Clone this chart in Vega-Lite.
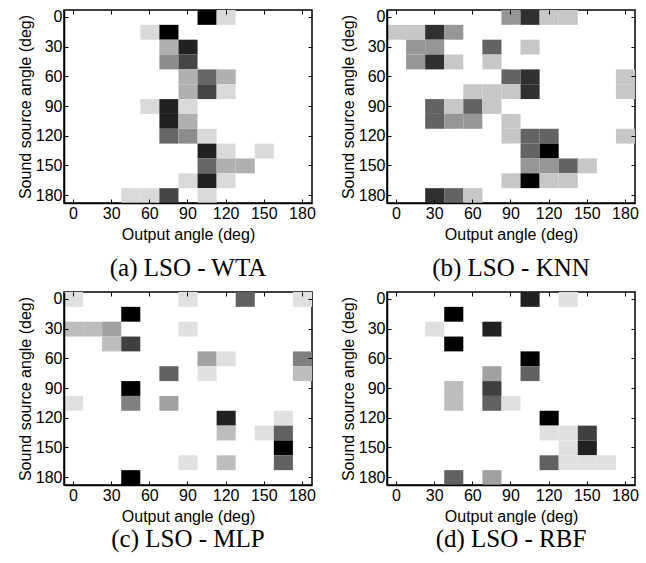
{
  "$schema": "https://vega.github.io/schema/vega-lite/v6.json",
  "padding": {"left": 16, "top": 8, "right": 5, "bottom": 2},
  "background": "white",
  "config": {
    "view": {"stroke": "black", "strokeWidth": 1.5},
    "axis": {
      "labelFont": "Liberation Sans", "labelFontSize": 16, "labelColor": "black",
      "titleFont": "Liberation Sans", "titleFontSize": 16, "titleFontWeight": "normal", "titleColor": "black",
      "domainColor": "black", "domainWidth": 1.5, "tickColor": "black", "tickWidth": 1,
      "tickSize": -4, "labelPadding": 6, "grid": false
    },
    "axisX": {"titlePadding": 5},
    "axisY": {"titlePadding": 2},
    "title": {"font": "Liberation Serif", "fontSize": 25, "fontWeight": "normal", "color": "black", "orient": "bottom", "anchor": "middle", "offset": 16}
  },
  "data": {"values": [
    {"p":"a","s":0,"o":105,"v":1},{"p":"a","s":0,"o":120,"v":0.15},
    {"p":"a","s":15,"o":60,"v":0.15},{"p":"a","s":15,"o":75,"v":1},
    {"p":"a","s":30,"o":75,"v":0.31},{"p":"a","s":30,"o":90,"v":0.87},
    {"p":"a","s":45,"o":75,"v":0.45},{"p":"a","s":45,"o":90,"v":0.73},
    {"p":"a","s":60,"o":90,"v":0.31},{"p":"a","s":60,"o":105,"v":0.6},{"p":"a","s":60,"o":120,"v":0.31},
    {"p":"a","s":75,"o":90,"v":0.31},{"p":"a","s":75,"o":105,"v":0.73},{"p":"a","s":75,"o":120,"v":0.15},
    {"p":"a","s":90,"o":60,"v":0.15},{"p":"a","s":90,"o":75,"v":0.87},{"p":"a","s":90,"o":90,"v":0.15},
    {"p":"a","s":105,"o":75,"v":0.87},{"p":"a","s":105,"o":90,"v":0.31},
    {"p":"a","s":120,"o":75,"v":0.6},{"p":"a","s":120,"o":90,"v":0.45},{"p":"a","s":120,"o":105,"v":0.15},
    {"p":"a","s":135,"o":105,"v":0.87},{"p":"a","s":135,"o":120,"v":0.15},{"p":"a","s":135,"o":150,"v":0.15},
    {"p":"a","s":150,"o":105,"v":0.6},{"p":"a","s":150,"o":120,"v":0.31},{"p":"a","s":150,"o":135,"v":0.31},
    {"p":"a","s":165,"o":90,"v":0.15},{"p":"a","s":165,"o":105,"v":0.87},{"p":"a","s":165,"o":120,"v":0.15},
    {"p":"a","s":180,"o":45,"v":0.15},{"p":"a","s":180,"o":60,"v":0.15},{"p":"a","s":180,"o":75,"v":0.73},{"p":"a","s":180,"o":105,"v":0.15},

    {"p":"b","s":0,"o":90,"v":0.41},{"p":"b","s":0,"o":105,"v":0.81},{"p":"b","s":0,"o":120,"v":0.22},{"p":"b","s":0,"o":135,"v":0.22},
    {"p":"b","s":15,"o":0,"v":0.22},{"p":"b","s":15,"o":15,"v":0.22},{"p":"b","s":15,"o":30,"v":0.81},{"p":"b","s":15,"o":45,"v":0.41},
    {"p":"b","s":30,"o":15,"v":0.41},{"p":"b","s":30,"o":30,"v":0.41},{"p":"b","s":30,"o":75,"v":0.61},{"p":"b","s":30,"o":105,"v":0.22},
    {"p":"b","s":45,"o":15,"v":0.41},{"p":"b","s":45,"o":30,"v":0.81},{"p":"b","s":45,"o":45,"v":0.22},{"p":"b","s":45,"o":75,"v":0.22},
    {"p":"b","s":60,"o":90,"v":0.61},{"p":"b","s":60,"o":105,"v":0.81},{"p":"b","s":60,"o":180,"v":0.22},
    {"p":"b","s":75,"o":60,"v":0.22},{"p":"b","s":75,"o":75,"v":0.22},{"p":"b","s":75,"o":90,"v":0.22},{"p":"b","s":75,"o":105,"v":0.81},{"p":"b","s":75,"o":180,"v":0.22},
    {"p":"b","s":90,"o":30,"v":0.61},{"p":"b","s":90,"o":45,"v":0.22},{"p":"b","s":90,"o":60,"v":0.61},{"p":"b","s":90,"o":75,"v":0.22},
    {"p":"b","s":105,"o":30,"v":0.61},{"p":"b","s":105,"o":45,"v":0.41},{"p":"b","s":105,"o":60,"v":0.41},{"p":"b","s":105,"o":90,"v":0.22},
    {"p":"b","s":120,"o":90,"v":0.22},{"p":"b","s":120,"o":105,"v":0.61},{"p":"b","s":120,"o":120,"v":0.61},{"p":"b","s":120,"o":180,"v":0.22},
    {"p":"b","s":135,"o":105,"v":0.61},{"p":"b","s":135,"o":120,"v":1},
    {"p":"b","s":150,"o":105,"v":0.41},{"p":"b","s":150,"o":120,"v":0.41},{"p":"b","s":150,"o":135,"v":0.61},{"p":"b","s":150,"o":150,"v":0.22},
    {"p":"b","s":165,"o":90,"v":0.22},{"p":"b","s":165,"o":105,"v":1},{"p":"b","s":165,"o":120,"v":0.22},{"p":"b","s":165,"o":135,"v":0.22},
    {"p":"b","s":180,"o":30,"v":0.81},{"p":"b","s":180,"o":45,"v":0.61},{"p":"b","s":180,"o":60,"v":0.22},

    {"p":"c","s":0,"o":0,"v":0.12},{"p":"c","s":0,"o":90,"v":0.12},{"p":"c","s":0,"o":135,"v":0.62},{"p":"c","s":0,"o":180,"v":0.12},
    {"p":"c","s":15,"o":45,"v":1},
    {"p":"c","s":30,"o":0,"v":0.26},{"p":"c","s":30,"o":15,"v":0.26},{"p":"c","s":30,"o":30,"v":0.37},{"p":"c","s":30,"o":90,"v":0.12},
    {"p":"c","s":45,"o":30,"v":0.26},{"p":"c","s":45,"o":45,"v":0.75},
    {"p":"c","s":60,"o":105,"v":0.37},{"p":"c","s":60,"o":120,"v":0.12},{"p":"c","s":60,"o":180,"v":0.5},
    {"p":"c","s":75,"o":75,"v":0.62},{"p":"c","s":75,"o":105,"v":0.12},{"p":"c","s":75,"o":180,"v":0.26},
    {"p":"c","s":90,"o":45,"v":1},
    {"p":"c","s":105,"o":0,"v":0.12},{"p":"c","s":105,"o":45,"v":0.5},{"p":"c","s":105,"o":75,"v":0.37},
    {"p":"c","s":120,"o":120,"v":0.87},{"p":"c","s":120,"o":165,"v":0.12},
    {"p":"c","s":135,"o":120,"v":0.26},{"p":"c","s":135,"o":150,"v":0.12},{"p":"c","s":135,"o":165,"v":0.62},
    {"p":"c","s":150,"o":165,"v":1},
    {"p":"c","s":165,"o":90,"v":0.12},{"p":"c","s":165,"o":120,"v":0.26},{"p":"c","s":165,"o":165,"v":0.62},
    {"p":"c","s":180,"o":45,"v":1},

    {"p":"d","s":0,"o":105,"v":0.87},{"p":"d","s":0,"o":135,"v":0.12},
    {"p":"d","s":15,"o":45,"v":1},
    {"p":"d","s":30,"o":30,"v":0.12},{"p":"d","s":30,"o":75,"v":0.87},
    {"p":"d","s":45,"o":45,"v":1},
    {"p":"d","s":60,"o":105,"v":1},
    {"p":"d","s":75,"o":75,"v":0.37},{"p":"d","s":75,"o":105,"v":0.62},
    {"p":"d","s":90,"o":45,"v":0.26},{"p":"d","s":90,"o":75,"v":0.75},
    {"p":"d","s":105,"o":45,"v":0.26},{"p":"d","s":105,"o":75,"v":0.62},{"p":"d","s":105,"o":90,"v":0.12},
    {"p":"d","s":120,"o":120,"v":1},
    {"p":"d","s":135,"o":120,"v":0.12},{"p":"d","s":135,"o":135,"v":0.12},{"p":"d","s":135,"o":150,"v":0.75},
    {"p":"d","s":150,"o":135,"v":0.12},{"p":"d","s":150,"o":150,"v":0.87},
    {"p":"d","s":165,"o":120,"v":0.62},{"p":"d","s":165,"o":135,"v":0.12},{"p":"d","s":165,"o":150,"v":0.12},{"p":"d","s":165,"o":165,"v":0.12},
    {"p":"d","s":180,"o":45,"v":0.62},{"p":"d","s":180,"o":75,"v":0.37}
  ]},
  "columns": 2,
  "spacing": {"column": 22, "row": 8},
  "concat": [
    {
      "title": {"text": "(a) LSO - WTA", "offset": 14},
      "transform": [{"filter": "datum.p === 'a'"}],
      "width": 248, "height": 193,
      "layer": [
        {"mark": {"type": "rect", "strokeWidth": 0},
         "encoding": {
           "x": {"field": "o", "type": "ordinal", "scale": {"domain": [0,15,30,45,60,75,90,105,120,135,150,165,180], "paddingInner": 0, "paddingOuter": 0}, "axis": {"values": [0,30,60,90,120,150,180], "labelAngle": 0, "title": "Output angle (deg)", "orient": "bottom"}},
           "y": {"field": "s", "type": "ordinal", "scale": {"domain": [0,15,30,45,60,75,90,105,120,135,150,165,180], "paddingInner": 0, "paddingOuter": 0}, "axis": {"values": [0,30,60,90,120,150,180], "title": "Sound source angle (deg)", "orient": "left"}},
           "color": {"field": "v", "type": "quantitative", "scale": {"domain": [0,1], "range": ["#ffffff","#000000"], "interpolate": "rgb"}, "legend": null}
         }},
        {"mark": {"type": "rect", "opacity": 0},
         "encoding": {
           "x": {"field": "o", "type": "ordinal", "axis": {"values": [0,30,60,90,120,150,180], "labels": false, "title": null, "orient": "top", "domain": false}},
           "y": {"field": "s", "type": "ordinal", "axis": {"values": [0,30,60,90,120,150,180], "labels": false, "title": null, "orient": "right", "domain": false}}
         }}
      ],
      "resolve": {"axis": {"x": "independent", "y": "independent"}}
    },
    {
      "title": {"text": "(b) LSO - KNN", "offset": 14},
      "transform": [{"filter": "datum.p === 'b'"}],
      "width": 248, "height": 193,
      "layer": [
        {"mark": {"type": "rect", "strokeWidth": 0},
         "encoding": {
           "x": {"field": "o", "type": "ordinal", "scale": {"domain": [0,15,30,45,60,75,90,105,120,135,150,165,180], "paddingInner": 0, "paddingOuter": 0}, "axis": {"values": [0,30,60,90,120,150,180], "labelAngle": 0, "title": "Output angle (deg)", "orient": "bottom"}},
           "y": {"field": "s", "type": "ordinal", "scale": {"domain": [0,15,30,45,60,75,90,105,120,135,150,165,180], "paddingInner": 0, "paddingOuter": 0}, "axis": {"values": [0,30,60,90,120,150,180], "title": "Sound source angle (deg)", "orient": "left"}},
           "color": {"field": "v", "type": "quantitative", "scale": {"domain": [0,1], "range": ["#ffffff","#000000"], "interpolate": "rgb"}, "legend": null}
         }},
        {"mark": {"type": "rect", "opacity": 0},
         "encoding": {
           "x": {"field": "o", "type": "ordinal", "axis": {"values": [0,30,60,90,120,150,180], "labels": false, "title": null, "orient": "top", "domain": false}},
           "y": {"field": "s", "type": "ordinal", "axis": {"values": [0,30,60,90,120,150,180], "labels": false, "title": null, "orient": "right", "domain": false}}
         }}
      ],
      "resolve": {"axis": {"x": "independent", "y": "independent"}}
    },
    {
      "title": {"text": "(c) LSO - MLP", "offset": 3},
      "transform": [{"filter": "datum.p === 'c'"}],
      "width": 248, "height": 193,
      "layer": [
        {"mark": {"type": "rect", "strokeWidth": 0},
         "encoding": {
           "x": {"field": "o", "type": "ordinal", "scale": {"domain": [0,15,30,45,60,75,90,105,120,135,150,165,180], "paddingInner": 0, "paddingOuter": 0}, "axis": {"values": [0,30,60,90,120,150,180], "labelAngle": 0, "title": "Output angle (deg)", "orient": "bottom"}},
           "y": {"field": "s", "type": "ordinal", "scale": {"domain": [0,15,30,45,60,75,90,105,120,135,150,165,180], "paddingInner": 0, "paddingOuter": 0}, "axis": {"values": [0,30,60,90,120,150,180], "title": "Sound source angle (deg)", "orient": "left"}},
           "color": {"field": "v", "type": "quantitative", "scale": {"domain": [0,1], "range": ["#ffffff","#000000"], "interpolate": "rgb"}, "legend": null}
         }},
        {"mark": {"type": "rect", "opacity": 0},
         "encoding": {
           "x": {"field": "o", "type": "ordinal", "axis": {"values": [0,30,60,90,120,150,180], "labels": false, "title": null, "orient": "top", "domain": false}},
           "y": {"field": "s", "type": "ordinal", "axis": {"values": [0,30,60,90,120,150,180], "labels": false, "title": null, "orient": "right", "domain": false}}
         }}
      ],
      "resolve": {"axis": {"x": "independent", "y": "independent"}}
    },
    {
      "title": {"text": "(d) LSO - RBF", "offset": 3},
      "transform": [{"filter": "datum.p === 'd'"}],
      "width": 248, "height": 193,
      "layer": [
        {"mark": {"type": "rect", "strokeWidth": 0},
         "encoding": {
           "x": {"field": "o", "type": "ordinal", "scale": {"domain": [0,15,30,45,60,75,90,105,120,135,150,165,180], "paddingInner": 0, "paddingOuter": 0}, "axis": {"values": [0,30,60,90,120,150,180], "labelAngle": 0, "title": "Output angle (deg)", "orient": "bottom"}},
           "y": {"field": "s", "type": "ordinal", "scale": {"domain": [0,15,30,45,60,75,90,105,120,135,150,165,180], "paddingInner": 0, "paddingOuter": 0}, "axis": {"values": [0,30,60,90,120,150,180], "title": "Sound source angle (deg)", "orient": "left"}},
           "color": {"field": "v", "type": "quantitative", "scale": {"domain": [0,1], "range": ["#ffffff","#000000"], "interpolate": "rgb"}, "legend": null}
         }},
        {"mark": {"type": "rect", "opacity": 0},
         "encoding": {
           "x": {"field": "o", "type": "ordinal", "axis": {"values": [0,30,60,90,120,150,180], "labels": false, "title": null, "orient": "top", "domain": false}},
           "y": {"field": "s", "type": "ordinal", "axis": {"values": [0,30,60,90,120,150,180], "labels": false, "title": null, "orient": "right", "domain": false}}
         }}
      ],
      "resolve": {"axis": {"x": "independent", "y": "independent"}}
    }
  ]
}
